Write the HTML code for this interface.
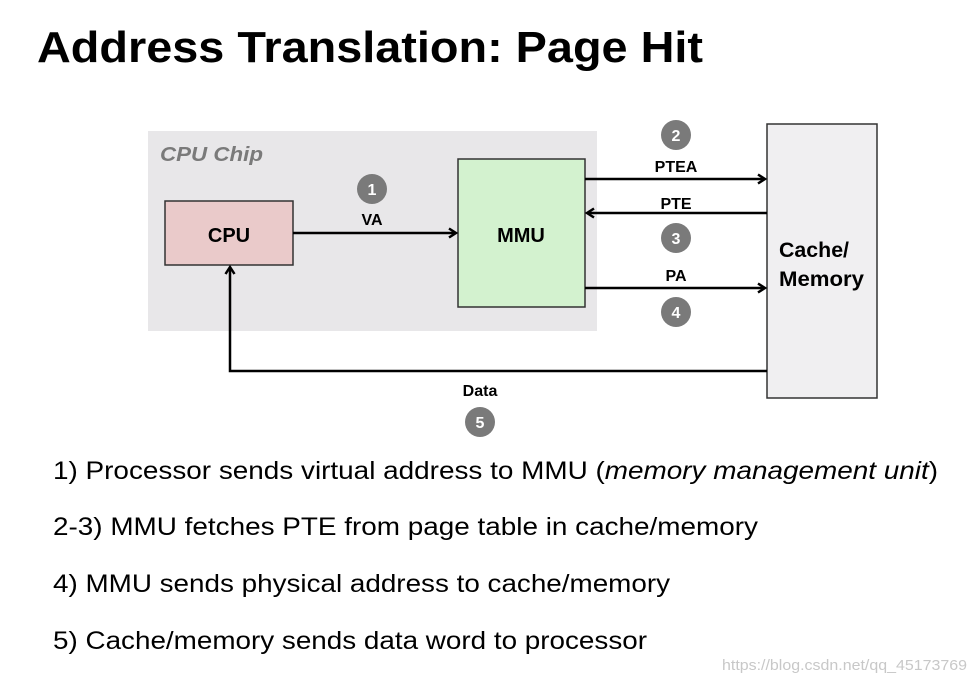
<!DOCTYPE html>
<html><head><style>body{margin:0;background:#fff}svg{display:block}</style></head><body>
<svg width="976" height="681" viewBox="0 0 976 681" xmlns="http://www.w3.org/2000/svg" font-family="Liberation Sans, sans-serif">
<defs><marker id="a" markerWidth="12" markerHeight="12" refX="9" refY="6" orient="auto" markerUnits="userSpaceOnUse"><path d="M2,1.5 L9,6 L2,10.5" fill="none" stroke="#000" stroke-width="2.5"/></marker></defs>
<text x="37" y="62" font-size="44" font-weight="bold" textLength="666" lengthAdjust="spacingAndGlyphs">Address Translation: Page Hit</text>
<rect x="148" y="131" width="449" height="200" fill="#e8e7e9"/>
<text x="160" y="161" font-size="20" font-weight="bold" font-style="italic" fill="#7a7a7a" textLength="103" lengthAdjust="spacingAndGlyphs">CPU Chip</text>
<rect x="165" y="201" width="128" height="64" fill="#eacaca" stroke="#333" stroke-width="1.5"/>
<text x="229" y="242" font-size="20" font-weight="bold" text-anchor="middle">CPU</text>
<rect x="458" y="159" width="127" height="148" fill="#d3f2cf" stroke="#333" stroke-width="1.5"/>
<text x="521" y="242" font-size="20" font-weight="bold" text-anchor="middle">MMU</text>
<rect x="767" y="124" width="110" height="274" fill="#f0eff1" stroke="#333" stroke-width="1.5"/>
<text x="779" y="257" font-size="21" font-weight="bold" textLength="70" lengthAdjust="spacingAndGlyphs">Cache/</text>
<text x="779" y="286" font-size="21" font-weight="bold" textLength="85" lengthAdjust="spacingAndGlyphs">Memory</text>
<g stroke="#000" stroke-width="2.5" fill="none">
<line x1="293" y1="233" x2="456" y2="233" marker-end="url(#a)"/>
<line x1="585" y1="179" x2="765" y2="179" marker-end="url(#a)"/>
<line x1="767" y1="213" x2="587" y2="213" marker-end="url(#a)"/>
<line x1="585" y1="288" x2="765" y2="288" marker-end="url(#a)"/>
<polyline points="767,371 230,371 230,267" marker-end="url(#a)"/>
</g>
<g font-size="16" font-weight="bold" text-anchor="middle">
<text x="372" y="225">VA</text><text x="676" y="172">PTEA</text><text x="676" y="209">PTE</text><text x="676" y="281">PA</text><text x="480" y="396">Data</text>
</g>
<g fill="#7a7a7a"><circle cx="372" cy="189" r="15"/><circle cx="676" cy="135" r="15"/><circle cx="676" cy="238" r="15"/><circle cx="676" cy="312" r="15"/><circle cx="480" cy="422" r="15"/></g>
<g fill="#fff" font-size="16" font-weight="bold" text-anchor="middle">
<text x="372" y="195">1</text><text x="676" y="141">2</text><text x="676" y="244">3</text><text x="676" y="318">4</text><text x="480" y="428">5</text>
</g>
<g font-size="25">
<text x="53" y="479" textLength="885" lengthAdjust="spacingAndGlyphs">1) Processor sends virtual address to MMU (<tspan font-style="italic">memory management unit</tspan>)</text>
<text x="53" y="535" textLength="705" lengthAdjust="spacingAndGlyphs">2-3) MMU fetches PTE from page table in cache/memory</text>
<text x="53" y="592" textLength="617" lengthAdjust="spacingAndGlyphs">4) MMU sends physical address to cache/memory</text>
<text x="53" y="649" textLength="594" lengthAdjust="spacingAndGlyphs">5) Cache/memory sends data word to processor</text>
</g>
<text x="722" y="670" font-size="15" fill="#c8c8c8" textLength="245" lengthAdjust="spacingAndGlyphs">https://blog.csdn.net/qq_45173769</text>
</svg>
</body></html>
